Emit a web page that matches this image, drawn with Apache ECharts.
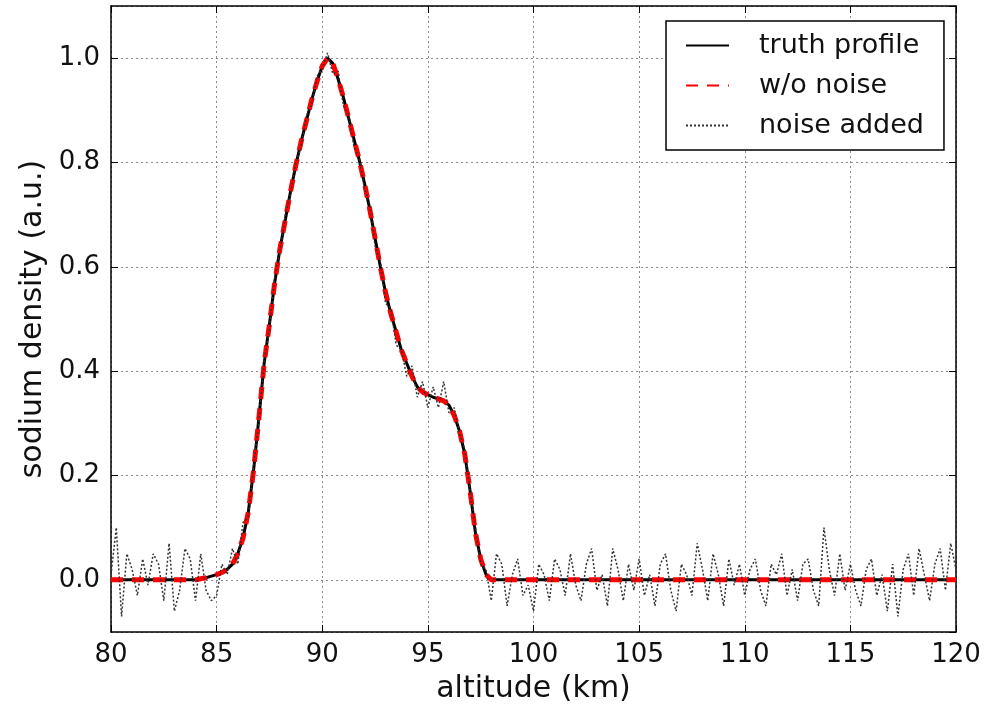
<!DOCTYPE html>
<html>
<head>
<meta charset="utf-8">
<script src="https://cdn.jsdelivr.net/npm/echarts@6/dist/echarts.min.js"></script>
<style>
html,body{margin:0;padding:0;background:#fff;}
#chart{width:994px;height:714px;}
</style>
</head>
<body>
<div id="chart"></div>
<script>
// altitude grid (km)
const altitude = [
  80,80.25,80.5,80.75,81,81.25,81.5,81.75,82,82.25,82.5,82.75,83,83.25,83.5,83.75,84,84.25,84.5,84.75,
  85,85.25,85.5,85.75,86,86.25,86.5,86.75,87,87.25,87.5,87.75,88,88.25,88.5,88.75,89,89.25,89.5,89.75,
  90,90.25,90.5,90.75,91,91.25,91.5,91.75,92,92.25,92.5,92.75,93,93.25,93.5,93.75,94,94.25,94.5,94.75,
  95,95.25,95.5,95.75,96,96.25,96.5,96.75,97,97.25,97.5,97.75,98,98.25,98.5,98.75,99,99.25,99.5,99.75,
  100,100.25,100.5,100.75,101,101.25,101.5,101.75,102,102.25,102.5,102.75,103,103.25,103.5,103.75,104,104.25,104.5,104.75,
  105,105.25,105.5,105.75,106,106.25,106.5,106.75,107,107.25,107.5,107.75,108,108.25,108.5,108.75,109,109.25,109.5,109.75,
  110,110.25,110.5,110.75,111,111.25,111.5,111.75,112,112.25,112.5,112.75,113,113.25,113.5,113.75,114,114.25,114.5,114.75,
  115,115.25,115.5,115.75,116,116.25,116.5,116.75,117,117.25,117.5,117.75,118,118.25,118.5,118.75,119,119.25,119.5,119.75,
  120
];
// truth profile
const truthProfile = [
  0,0,0,0,0,0,0,0,0,0,0,0,0,0,0,0,0,0.002,0.004,0.007,
  0.01,0.014,0.02,0.03,0.05,0.08,0.13,0.21,0.31,0.415,0.49,0.57,0.635,0.69,0.745,0.795,0.84,0.88,0.92,0.955,
  0.985,1.0,0.99,0.96,0.925,0.885,0.845,0.805,0.76,0.71,0.655,0.6,0.55,0.51,0.475,0.44,0.415,0.39,0.37,0.36,
  0.355,0.35,0.347,0.343,0.335,0.315,0.285,0.24,0.17,0.09,0.04,0.01,0,0,0,0,0,0,0,0,
  0,0,0,0,0,0,0,0,0,0,0,0,0,0,0,0,0,0,0,0,
  0,0,0,0,0,0,0,0,0,0,0,0,0,0,0,0,0,0,0,0,
  0,0,0,0,0,0,0,0,0,0,0,0,0,0,0,0,0,0,0,0,
  0,0,0,0,0,0,0,0,0,0,0,0,0,0,0,0,0,0,0,0,
  0
];
// retrieval without noise (coincides with the truth profile)
const withoutNoise = [
  0,0,0,0,0,0,0,0,0,0,0,0,0,0,0,0,0,0.002,0.004,0.007,
  0.01,0.014,0.02,0.03,0.05,0.08,0.13,0.21,0.31,0.415,0.49,0.57,0.635,0.69,0.745,0.795,0.84,0.88,0.92,0.955,
  0.985,1.0,0.99,0.96,0.925,0.885,0.845,0.805,0.76,0.71,0.655,0.6,0.55,0.51,0.475,0.44,0.415,0.39,0.37,0.36,
  0.355,0.35,0.347,0.343,0.335,0.315,0.285,0.24,0.17,0.09,0.04,0.01,0,0,0,0,0,0,0,0,
  0,0,0,0,0,0,0,0,0,0,0,0,0,0,0,0,0,0,0,0,
  0,0,0,0,0,0,0,0,0,0,0,0,0,0,0,0,0,0,0,0,
  0,0,0,0,0,0,0,0,0,0,0,0,0,0,0,0,0,0,0,0,
  0,0,0,0,0,0,0,0,0,0,0,0,0,0,0,0,0,0,0,0,
  0
];
// noisy profile
const noiseAdded = [
  0.01,0.10,-0.07,0.05,0.02,-0.03,0.04,-0.01,0.05,0.03,-0.04,0.07,-0.06,-0.02,0.06,0.04,-0.04,0.05,-0.02,-0.04,
  -0.03,0.03,0.01,0.06,0.03,0.11,0.12,0.22,0.30,0.42,0.48,0.58,0.63,0.70,0.74,0.80,0.83,0.89,0.91,0.965,
  0.98,1.01,0.97,0.975,0.91,0.89,0.83,0.81,0.75,0.72,0.64,0.61,0.53,0.52,0.45,0.44,0.39,0.41,0.35,0.38,
  0.33,0.37,0.33,0.38,0.32,0.33,0.28,0.25,0.17,0.10,0.03,0.02,-0.04,0.05,0.03,-0.05,0.01,0.04,-0.03,-0.01,
  -0.06,0.03,0.01,-0.04,0.04,0.02,-0.03,0.05,-0.01,-0.04,0.03,0.06,-0.02,0.01,-0.05,0.06,0.02,-0.04,0.03,-0.02,
  0.04,-0.03,0.01,-0.05,0.03,0.05,-0.02,-0.06,0.03,0.01,-0.03,0.07,0.02,-0.04,0.05,0.01,-0.05,0.04,-0.01,0.03,
  -0.03,0.02,0.04,-0.02,-0.05,0.03,0.01,0.05,-0.03,0.02,-0.04,0.03,0.04,-0.02,-0.05,0.10,0.02,-0.03,0.05,-0.02,
  0.03,-0.02,-0.05,0.02,0.04,-0.03,0.01,-0.06,0.03,-0.07,0.02,0.05,-0.03,0.06,0.01,-0.04,0.03,0.06,-0.02,0.07,
  0.02
];
const seriesNames = ['truth profile','w/o noise','noise added'];

const pairs = vals => altitude.map((a, i) => [a, vals[i]]);
const FONT = 'DejaVu Sans';
const frame = {show:true, onZero:false, lineStyle:{color:'#000', width:1.5}};
const ticks = {show:true, inside:true, length:7, lineStyle:{color:'#000', width:1}};
const grid = {show:true, lineStyle:{color:'#8a8a8a', width:1, type:[2,3]}};

const chart = echarts.init(document.getElementById('chart'), null, {renderer:'canvas'});
chart.setOption({
  animation:false,
  backgroundColor:'#fff',
  textStyle:{fontFamily:FONT},
  grid:{left:111, right:38, top:6, bottom:82},
  xAxis:[
    {type:'value', min:80, max:120, interval:5, position:'bottom',
     axisLine:frame, axisTick:ticks, splitLine:grid,
     axisLabel:{fontSize:26, color:'#111', margin:10, fontFamily:FONT},
     name:'altitude (km)', nameLocation:'middle', nameGap:42,
     nameTextStyle:{fontSize:30, color:'#111', fontFamily:FONT}},
    {type:'value', min:80, max:120, interval:5, position:'top',
     axisLine:frame, axisTick:ticks, splitLine:{show:false}, axisLabel:{show:false}}
  ],
  yAxis:[
    {type:'value', min:-0.1, max:1.1, splitNumber:6, position:'left',
     axisLine:frame, axisTick:ticks, splitLine:grid,
     axisLabel:{fontSize:26, color:'#111', margin:11, fontFamily:FONT,
       showMinLabel:false, showMaxLabel:false, formatter:v => v.toFixed(1)},
     name:'sodium density (a.u.)', nameLocation:'middle', nameGap:62,
     nameTextStyle:{fontSize:30, color:'#111', fontFamily:FONT}},
    {type:'value', min:-0.1, max:1.1, splitNumber:6, position:'right',
     axisLine:frame, axisTick:ticks, splitLine:{show:false}, axisLabel:{show:false}}
  ],
  legend:{
    orient:'vertical', left:666, top:21,
    itemWidth:43, itemHeight:14, itemGap:13,
    padding:[11,20,11,19],
    borderColor:'#000', borderWidth:1.5, borderRadius:0, backgroundColor:'#fff',
    itemStyle:{opacity:0},
    textStyle:{fontSize:27, color:'#111', fontFamily:FONT, padding:[0,0,0,25]},
    data:seriesNames
  },
  series:[
    {name:seriesNames[0], type:'line', data:pairs(truthProfile), symbol:'none',
     lineStyle:{color:'#000', width:3}, itemStyle:{color:'#000'}, z:2},
    {name:seriesNames[1], type:'line', data:pairs(withoutNoise), symbol:'none',
     lineStyle:{color:'#f00', width:5, type:[12,9]}, itemStyle:{color:'#f00'}, z:3},
    {name:seriesNames[2], type:'line', data:pairs(noiseAdded), symbol:'none',
     lineStyle:{color:'#333', width:1.5, type:[2,2]}, itemStyle:{color:'#333'}, z:4}
  ]
});
</script>
</body>
</html>
